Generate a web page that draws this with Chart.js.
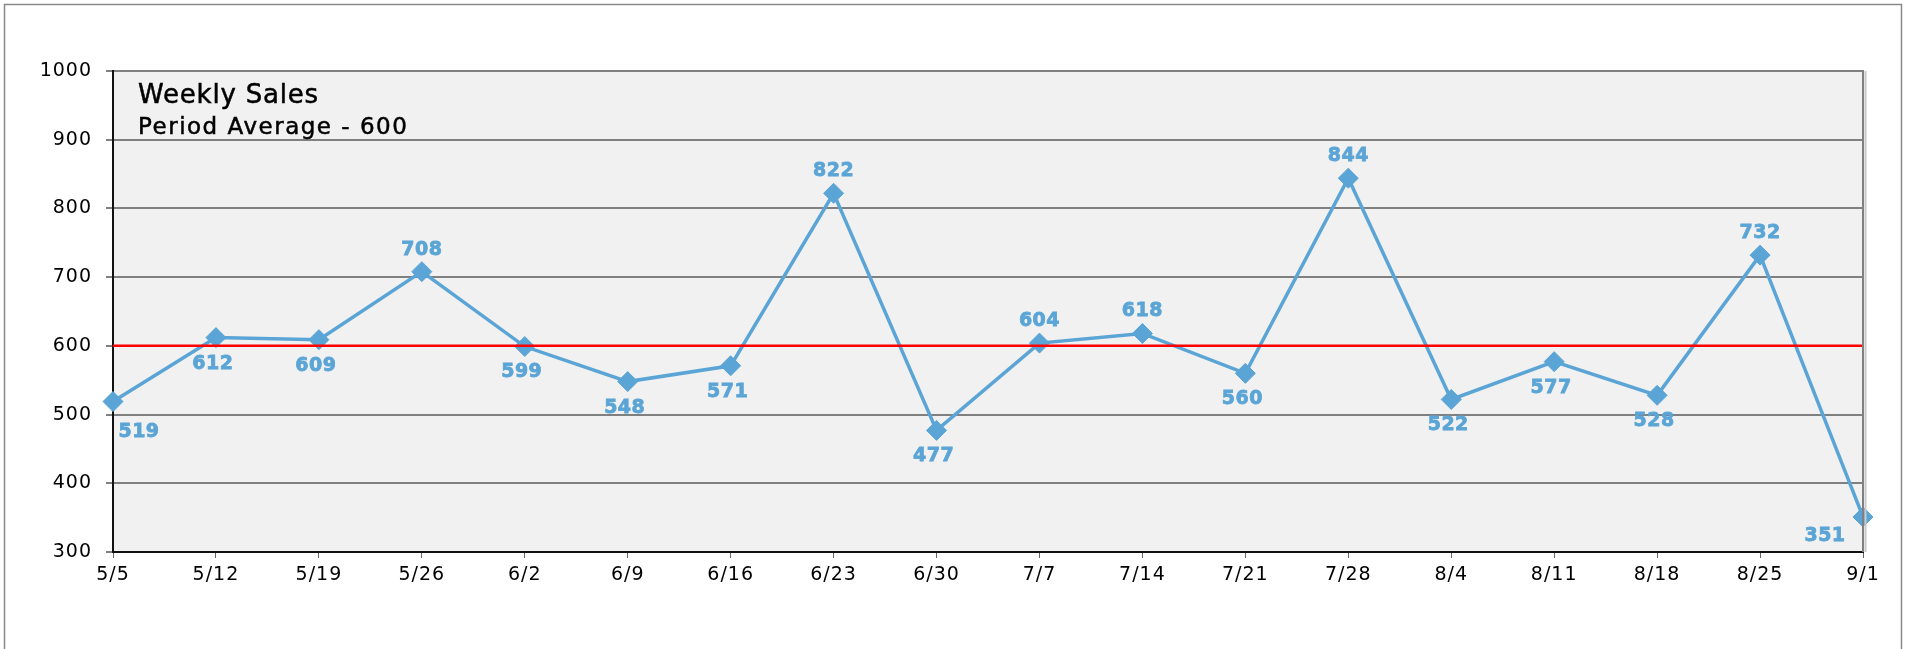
<!DOCTYPE html>
<html>
<head>
<meta charset="utf-8">
<script src="https://cdn.jsdelivr.net/npm/chart.js@4"></script>
<style>
  html, body { margin: 0; padding: 0; background: #ffffff; }
  #wrap { position: relative; width: 1908px; height: 649px; }
</style>
</head>
<body>
<div id="wrap"><canvas id="c" width="1908" height="649"></canvas></div>
<script>
// ---- data ----
const weeks = ['5/5','5/12','5/19','5/26','6/2','6/9','6/16','6/23','6/30','7/7','7/14','7/21','7/28','8/4','8/11','8/18','8/25','9/1'];
const weeklySales = [519, 612, 609, 708, 599, 548, 571, 822, 477, 604, 618, 560, 844, 522, 577, 528, 732, 351];
const periodAverage = [600, 600, 600, 600, 600, 600, 600, 600, 600, 600, 600, 600, 600, 600, 600, 600, 600, 600];
const yTickValues = [300, 400, 500, 600, 700, 800, 900, 1000];
const titleLines = ['Weekly Sales', 'Period Average - 600'];
// labels drawn above the point (others below)
const labelAbove = ['708', '822', '604', '618', '844', '732'];

const BLUE = '#5ba5d6';
const FONT = "'DejaVu Sans', sans-serif";

const framePlugin = {
  id: 'frame',
  beforeDraw(chart) {
    const ctx = chart.ctx, a = chart.chartArea;
    ctx.save();
    ctx.fillStyle = '#ffffff';
    ctx.fillRect(0, 0, chart.width, chart.height);
    ctx.strokeStyle = '#8a8a8a';
    ctx.lineWidth = 1.5;
    ctx.beginPath();
    ctx.moveTo(4.5, 700); ctx.lineTo(4.5, 4.5); ctx.lineTo(1901.5, 4.5); ctx.lineTo(1901.5, 700);
    ctx.stroke();
    ctx.fillStyle = '#f1f1f1';
    ctx.fillRect(a.left, a.top, a.right - a.left, a.bottom - a.top);
    ctx.restore();
    ctx.letterSpacing = '1px';
  },
  afterDraw(chart) {
    const ctx = chart.ctx, a = chart.chartArea;
    ctx.save();
    ctx.strokeStyle = '#c8c8c8';
    ctx.lineWidth = 2;
    ctx.beginPath(); ctx.moveTo(a.right + 2.5, a.top); ctx.lineTo(a.right + 2.5, a.bottom); ctx.stroke();
    ctx.strokeStyle = '#808080';
    ctx.beginPath(); ctx.moveTo(a.right, a.top - 1); ctx.lineTo(a.right, a.bottom); ctx.stroke();
    ctx.fillStyle = '#000000';
    ctx.strokeStyle = '#000000';
    ctx.lineWidth = 0.5;
    ctx.textAlign = 'left';
    ctx.textBaseline = 'alphabetic';
    ctx.letterSpacing = '0.8px';
    ctx.font = '26px ' + FONT;
    ctx.fillText(titleLines[0], a.left + 25, a.top + 32);
    ctx.strokeText(titleLines[0], a.left + 25, a.top + 32);
    ctx.letterSpacing = '1.5px';
    ctx.font = '23px ' + FONT;
    ctx.fillText(titleLines[1], a.left + 25, a.top + 63);
    ctx.strokeText(titleLines[1], a.left + 25, a.top + 63);
    ctx.restore();
    ctx.letterSpacing = '0px';
  }
};

const labelPlugin = {
  id: 'pointLabels',
  afterDatasetsDraw(chart) {
    const ctx = chart.ctx;
    const meta = chart.getDatasetMeta(1);
    const n = weeklySales.length;
    ctx.save();
    ctx.fillStyle = BLUE;
    ctx.strokeStyle = BLUE;
    ctx.lineWidth = 0.8;
    ctx.font = 'bold 19px ' + FONT;
    ctx.letterSpacing = '0.5px';
    ctx.textAlign = 'center';
    ctx.textBaseline = 'middle';
    meta.data.forEach((pt, i) => {
      const txt = String(weeklySales[i]);
      let x = pt.x, y = pt.y;
      if (i === 0) { x += 26; y += 31; }
      else if (i === n - 1) { x -= 38; y += 19; }
      else if (labelAbove.includes(txt)) { y -= 22; }
      else { x -= 3; y += 26; }
      ctx.fillText(txt, x, y);
      ctx.strokeText(txt, x, y);
    });
    ctx.restore();
  }
};

const ctx = document.getElementById('c').getContext('2d');
new Chart(ctx, {
  type: 'line',
  data: {
    labels: weeks,
    datasets: [
      {
        label: 'Period Average',
        data: periodAverage,
        borderColor: '#ff0000',
        borderWidth: 2.5,
        pointRadius: 0,
        pointHoverRadius: 0,
        fill: false,
        order: 0
      },
      {
        label: 'Weekly Sales',
        data: weeklySales,
        borderColor: BLUE,
        backgroundColor: BLUE,
        borderWidth: 3.5,
        pointStyle: 'rectRot',
        pointRadius: 10,
        pointBorderWidth: 1,
        pointBorderColor: BLUE,
        pointBackgroundColor: BLUE,
        tension: 0,
        fill: false,
        order: 1
      }
    ]
  },
  options: {
    responsive: false,
    animation: false,
    devicePixelRatio: 1,
    layout: { padding: { left: 0, top: 71, right: 45, bottom: 0 } },
    plugins: {
      legend: { display: false },
      title: { display: false },
      tooltip: { enabled: false }
    },
    scales: {
      x: {
        type: 'category',
        offset: false,
        grid: { drawOnChartArea: false, drawTicks: true, tickLength: 6, color: '#666666', lineWidth: 1 },
        border: { display: true, color: '#111111', width: 2 },
        ticks: { color: '#000000', font: { family: FONT, size: 19 }, padding: 6, maxRotation: 0, autoSkip: false },
        afterFit(scale) { scale.height = 97; }
      },
      y: {
        min: 300,
        max: 1000,
        afterBuildTicks(scale) { scale.ticks = yTickValues.map(v => ({ value: v })); },
        grid: { color: '#808080', lineWidth: 2, drawTicks: true, tickLength: 7 },
        border: { display: true, color: '#111111', width: 2 },
        ticks: { color: '#000000', font: { family: FONT, size: 19 }, padding: 14, callback: (v) => String(v) },
        afterFit(scale) { scale.width = 113; }
      }
    }
  },
  plugins: [framePlugin, labelPlugin]
});
</script>
</body>
</html>
